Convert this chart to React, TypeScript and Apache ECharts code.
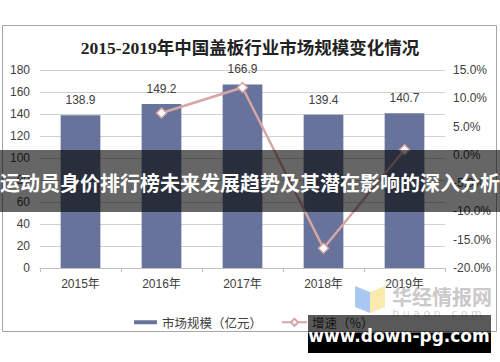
import React, { useEffect, useRef } from "react";
import * as echarts from "echarts";

const categories = ["2015年", "2016年", "2017年", "2018年", "2019年"];
const marketSize = [138.9, 149.2, 166.9, 139.4, 140.7];
const growth: (number | null)[] = [null, 7.4, 11.9, -16.5, 0.9];
const titleText = "2015-2019年中国盖板行业市场规模变化情况";
const barName = "市场规模（亿元）";
const lineName = "增速（%）";
const bannerText = "运动员身价排行榜未来发展趋势及其潜在影响的深入分析";
const siteText = "www.down-pg.com";

export default function App() {
  const ref = useRef<HTMLDivElement>(null);
  useEffect(() => {
    if (!ref.current) return;
    const chart = echarts.init(ref.current, undefined, { renderer: "svg" });
    const labelFont = "'Liberation Sans', Arial, 'Noto Sans CJK SC', sans-serif";
    chart.setOption({
      animation: false,
      backgroundColor: "#ffffff",
      title: {
        text: titleText,
        left: "center",
        top: 34,
        textStyle: {
          fontSize: 17.5,
          fontWeight: "bold",
          color: "#222",
          fontFamily: "'Liberation Serif', 'Noto Sans CJK SC', serif",
        },
      },
      legend: [
        {
          data: [barName],
          left: 129,
          top: 311,
          icon: "rect",
          itemWidth: 23,
          itemHeight: 4,
          itemGap: 5,
          textStyle: { fontSize: 12.5, color: "#404040", fontFamily: "'Noto Sans CJK SC', sans-serif" },
        },
        {
          data: [lineName],
          left: 276,
          top: 311,
          itemWidth: 25,
          itemHeight: 9,
          textStyle: { fontSize: 12.5, color: "#404040", fontFamily: "'Noto Sans CJK SC', sans-serif" },
        },
      ],
      grid: { left: 40, right: 55, top: 70, bottom: 94 },
      xAxis: {
        type: "category",
        data: categories,
        axisLine: { lineStyle: { color: "#BFBFBF" } },
        axisTick: { show: true, length: 4, lineStyle: { color: "#BFBFBF" } },
        axisLabel: { color: "#404040", fontSize: 12, margin: 10, fontFamily: labelFont },
      },
      yAxis: [
        {
          type: "value",
          min: 0,
          max: 180,
          interval: 20,
          axisLine: { show: false },
          axisTick: { show: false },
          axisLabel: { color: "#404040", fontSize: 12, margin: 10, fontFamily: labelFont },
          splitLine: { lineStyle: { color: "#D0D0D0" } },
        },
        {
          type: "value",
          min: -20,
          max: 15,
          interval: 5,
          axisLine: { show: false },
          axisTick: { show: false },
          splitLine: { show: false },
          axisLabel: {
            color: "#404040",
            fontSize: 12,
            margin: 8,
            fontFamily: labelFont,
            formatter: (v: number) => v.toFixed(1) + "%",
          },
        },
      ],
      series: [
        {
          name: barName,
          type: "bar",
          data: marketSize,
          barWidth: "49%",
          itemStyle: { color: "#67739A" },
          label: {
            show: true,
            position: "top",
            distance: 9,
            color: "#404040",
            fontSize: 12,
            fontFamily: labelFont,
          },
          z: 2,
        },
        {
          name: lineName,
          type: "line",
          yAxisIndex: 1,
          data: growth,
          symbol: "diamond",
          symbolSize: 10,
          lineStyle: { color: "#D6A6A5", width: 2.5 },
          itemStyle: { color: "#ffffff", borderColor: "#D6A6A5", borderWidth: 1.5 },
          z: 3,
        },
      ],
      graphic: [
        {
          type: "rect",
          shape: { x: 2.5, y: 25.5, width: 494, height: 306 },
          style: { fill: "none", stroke: "#A6A6A6", lineWidth: 1 },
          z: 0,
          silent: true,
        },
        {
          type: "polygon",
          shape: { points: [[355, 286], [370, 292], [370, 313], [355, 307]] },
          style: { fill: "#A9C9F2" },
          z: 50,
        },
        {
          type: "polygon",
          shape: { points: [[370, 292], [385, 286], [385, 307], [370, 313]] },
          style: { fill: "#FBEAAE" },
          z: 50,
        },
        {
          type: "text",
          x: 392,
          y: 296,
          style: {
            text: "华经情报网",
            fill: "#C9C9C9",
            fontSize: 20,
            fontWeight: "bold",
            fontFamily: "'Noto Sans CJK SC', sans-serif",
            verticalAlign: "middle",
            align: "left",
          },
          z: 50,
        },
        {
          type: "text",
          x: 437,
          y: 313,
          style: {
            text: "h u a o n . c o m",
            fill: "#D6D6D6",
            fontSize: 11,
            fontFamily: "'DejaVu Sans', sans-serif",
            verticalAlign: "middle",
            align: "center",
          },
          z: 50,
        },
        {
          type: "rect",
          shape: { x: 0, y: 150, width: 500, height: 62 },
          style: { fill: "rgba(0,0,0,0.6)" },
          z: 100,
        },
        {
          type: "text",
          x: 250,
          y: 182,
          style: {
            text: bannerText,
            fill: "#ffffff",
            fontSize: 20,
            fontWeight: "bold",
            fontFamily: "'Noto Sans CJK SC', sans-serif",
            align: "center",
            verticalAlign: "middle",
          },
          z: 101,
        },
        {
          type: "rect",
          shape: { x: 308, y: 315, width: 183, height: 18 },
          style: { fill: "rgba(0,0,0,0.65)" },
          z: 100,
        },
        {
          type: "rect",
          shape: { x: 308, y: 333, width: 183, height: 20 },
          style: { fill: "#000000" },
          z: 100,
        },
        {
          type: "text",
          x: 399,
          y: 336,
          style: {
            text: siteText,
            fill: "#ffffff",
            fontSize: 17,
            fontWeight: "bold",
            fontFamily: "'DejaVu Sans', sans-serif",
            align: "center",
            verticalAlign: "middle",
          },
          z: 101,
        },
      ],
    });
    return () => chart.dispose();
  }, []);
  return (
    <div
      ref={ref}
      style={{ position: "fixed", left: 0, top: 0, width: 500, height: 362, background: "#fff" }}
    />
  );
}
